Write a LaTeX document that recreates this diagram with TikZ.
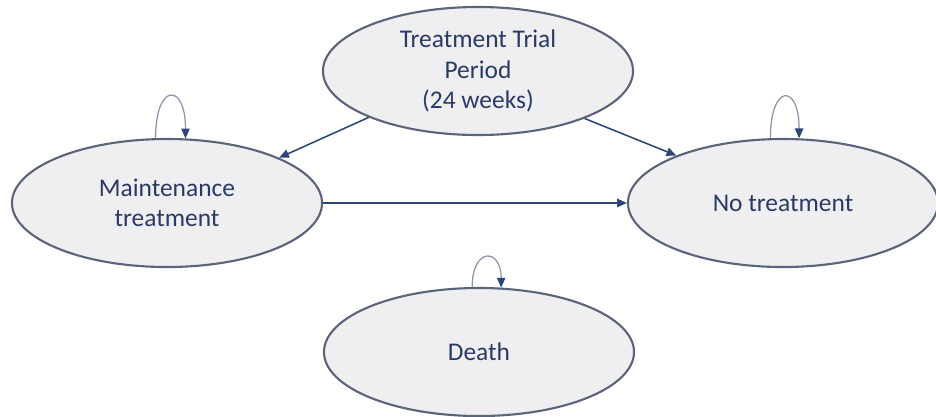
\documentclass[tikz,border=0pt]{standalone}
\usepackage{fontspec}
\setmainfont{Carlito}
\usepackage{tikz}
\usetikzlibrary{shapes.geometric,arrows.meta}
\definecolor{ink}{HTML}{2A3A66}
\definecolor{rim}{HTML}{5B6478}
\definecolor{pale}{HTML}{EFEFF1}
\definecolor{arr}{HTML}{2E4577}
\definecolor{loopc}{HTML}{8E96AA}
\tikzset{
  state/.style={ellipse, draw=rim, fill=pale, line width=1.5pt,
    minimum width=7.75cm, minimum height=3.2cm, inner sep=0pt,
    align=center, text=ink, font=\fontsize{18.1}{21.5}\selectfont},
  link/.style={draw=arr, line width=1.1pt, -{Triangle[length=7pt,width=6pt]}},
  selfloop/.style={draw=loopc, line width=0.9pt,
    -{Triangle[length=7pt,width=6pt,color=arr]}}
}

\begin{document}
\begin{tikzpicture}[x=0.025cm,y=-0.025cm]
\useasboundingbox (0,0) rectangle (936,416);
% states
\node[state] (trial) at (478,71) {Treatment Trial\\Period\\(24 weeks)};
\node[state] (maint) at (167,203) {Maintenance\\treatment};
\node[state] (notrt) at (783,203) {No treatment};
\node[state] (death) at (479,352) {Death};

% transitions
\draw[link] (trial.203.6) -- (maint.22.8);
\draw[link] (trial.336.4) -- (notrt.156);
\draw[link] (maint.east) -- (notrt.west);

% stay in same state
\draw[selfloop] (maint.100) .. controls +(0,-56) and +(0,-56) .. (maint.74);
\draw[selfloop] (notrt.101) .. controls +(0,-55) and +(0,-55) .. (notrt.76);
\draw[selfloop] (death.96) .. controls +(0,-40) and +(0,-40) .. (death.71);
\end{tikzpicture}
\end{document}
